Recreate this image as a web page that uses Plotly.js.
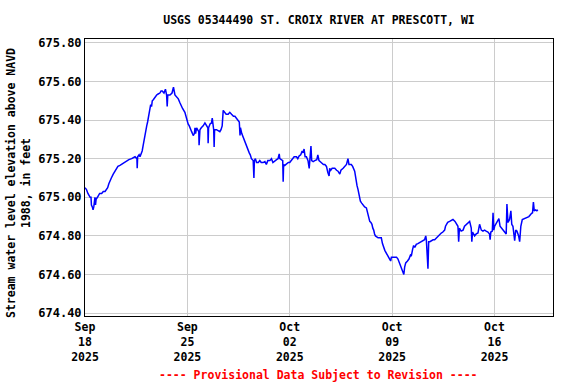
<!DOCTYPE html>
<html>
<head>
<meta charset="utf-8">
<script src="https://cdn.plot.ly/plotly-3.0.1.min.js"></script>
<style>
html,body{margin:0;padding:0;background:#fff;}
#chart{width:576px;height:384px;}
</style>
</head>
<body>
<div id="chart"></div>
<script>
// Days since 2025-09-18 00:00
var dayOffset = [
0.00,0.10,0.20,0.27,0.35,0.41,0.44,0.50,0.55,0.60,0.64,0.68,0.72,0.76,0.85,0.91,1.00,1.14,1.25,1.37,
1.45,1.55,1.63,1.71,1.80,1.93,2.05,2.16,2.25,2.39,2.50,2.62,2.75,2.85,3.00,3.19,3.30,3.42,3.55,3.57,
3.60,3.70,3.76,3.85,3.91,3.98,4.05,4.15,4.22,4.28,4.35,4.39,4.45,4.49,4.55,4.60,4.67,4.78,4.90,5.00,
5.12,5.20,5.28,5.40,5.50,5.58,5.62,5.66,5.81,5.95,6.05,6.15,6.28,6.38,6.49,6.58,6.67,6.83,6.94,7.05,
7.13,7.21,7.29,7.35,7.40,7.48,7.52,7.56,7.63,7.70,7.78,7.80,7.83,7.86,7.95,8.08,8.20,8.30,8.40,8.42,
8.45,8.55,8.65,8.70,8.75,8.80,8.83,8.86,8.99,9.10,9.22,9.30,9.38,9.45,9.55,9.65,9.79,9.90,10.02,10.15,
10.25,10.36,10.47,10.55,10.60,10.63,10.72,10.82,10.93,11.04,11.15,11.23,11.30,11.38,11.50,11.55,11.58,11.65,11.73,11.85,
11.95,12.05,12.18,12.30,12.40,12.50,12.64,12.75,12.85,12.98,13.10,13.20,13.28,13.32,13.45,13.52,13.55,13.58,13.66,13.77,
13.90,14.00,14.10,14.20,14.30,14.46,14.55,14.65,14.75,14.85,14.91,14.98,15.05,15.14,15.25,15.33,15.38,15.45,15.50,15.60,
15.71,15.85,15.92,16.00,16.15,16.30,16.40,16.51,16.60,16.69,16.73,16.80,16.90,17.08,17.20,17.30,17.42,17.50,17.65,17.75,
17.88,17.98,18.05,18.21,18.30,18.44,18.52,18.60,18.67,18.74,18.83,18.92,19.01,19.12,19.24,19.32,19.40,19.47,19.55,19.62,
19.68,19.74,19.80,19.86,19.95,20.04,20.15,20.26,20.34,20.42,20.50,20.61,20.70,20.83,20.90,20.95,21.06,21.17,21.30,21.40,
21.50,21.56,21.65,21.74,21.80,21.86,21.93,22.05,22.15,22.25,22.31,22.40,22.47,22.55,22.65,22.76,22.88,23.00,23.11,23.22,
23.30,23.34,23.45,23.50,23.58,23.68,23.80,23.91,24.02,24.13,24.25,24.36,24.47,24.59,24.65,24.70,24.80,24.93,25.05,25.16,
25.30,25.40,25.50,25.55,25.60,25.72,25.85,25.95,26.08,26.18,26.30,26.41,26.45,26.50,26.64,26.75,26.87,26.98,27.10,27.21,
27.32,27.43,27.55,27.66,27.70,27.75,27.85,27.90,27.95,28.01,28.16,28.30,28.38,28.53,28.65,28.80,28.85,28.92,29.03,29.12,
29.18,29.26,29.38,29.45,29.53,29.65,29.72,29.80,29.90,30.05,30.20,30.35,30.51,30.60,30.66,30.72,30.81,30.90,30.96
];
// Stream water level elevation, feet above NAVD 1988
var elevation = [
675.05,675.04,675.02,675.01,675.00,675.00,674.96,674.95,674.935,674.95,674.99,675.00,674.96,674.99,675.00,675.01,675.02,675.02,675.03,675.03,
675.04,675.05,675.07,675.09,675.10,675.12,675.135,675.15,675.16,675.165,675.17,675.18,675.185,675.19,675.195,675.20,675.205,675.21,675.20,675.15,
675.21,675.22,675.21,675.23,675.24,675.27,675.30,675.36,675.37,675.39,675.42,675.44,675.46,675.48,675.47,675.50,675.505,675.52,675.53,675.535,
675.54,675.55,675.55,675.54,675.56,675.53,675.47,675.53,675.53,675.54,675.57,675.53,675.52,675.51,675.49,675.47,675.46,675.44,675.405,675.38,
675.37,675.35,675.34,675.33,675.32,675.33,675.36,675.33,675.36,675.35,675.34,675.27,675.35,675.35,675.36,675.37,675.385,675.37,675.36,675.28,
675.36,675.38,675.385,675.41,675.37,675.35,675.26,675.35,675.35,675.345,675.34,675.35,675.37,675.45,675.44,675.43,675.43,675.44,675.43,675.42,
675.42,675.41,675.40,675.39,675.32,675.36,675.33,675.31,675.28,675.26,675.24,675.23,675.22,675.20,675.19,675.10,675.19,675.20,675.18,675.18,
675.19,675.18,675.18,675.185,675.17,675.19,675.19,675.20,675.18,675.19,675.195,675.20,675.225,675.20,675.19,675.19,675.08,675.17,675.165,675.17,
675.18,675.18,675.19,675.20,675.21,675.21,675.20,675.215,675.22,675.24,675.23,675.25,675.21,675.21,675.19,675.15,675.19,675.265,675.19,675.185,
675.19,675.195,675.22,675.19,675.18,675.17,675.17,675.16,675.13,675.11,675.15,675.14,675.15,675.15,675.14,675.135,675.12,675.14,675.15,675.16,
675.17,675.20,675.17,675.17,675.16,675.135,675.09,675.06,675.04,675.015,674.98,674.97,674.96,674.95,674.945,674.92,674.90,674.875,674.87,674.86,
674.84,674.83,674.81,674.80,674.795,674.79,674.79,674.79,674.76,674.74,674.725,674.71,674.70,674.68,674.67,674.69,674.69,674.69,674.69,674.68,
674.66,674.645,674.63,674.62,674.60,674.64,674.66,674.67,674.68,674.70,674.695,674.73,674.75,674.74,674.756,674.76,674.765,674.77,674.775,674.78,
674.80,674.78,674.63,674.77,674.77,674.775,674.78,674.78,674.79,674.80,674.81,674.815,674.82,674.83,674.85,674.86,674.87,674.875,674.88,674.885,
674.875,674.86,674.85,674.77,674.84,674.825,674.83,674.85,674.86,674.87,674.875,674.84,674.77,674.82,674.80,674.81,674.815,674.86,674.83,674.825,
674.83,674.825,674.82,674.81,674.78,674.82,674.825,674.92,674.83,674.85,674.875,674.89,674.85,674.835,674.825,674.81,674.965,674.87,674.885,674.93,
674.86,674.85,674.775,674.83,674.825,674.80,674.77,674.85,674.885,674.89,674.895,674.90,674.915,674.92,674.975,674.93,674.935,674.93,674.935
];
var tickDates = ['2025-09-18','2025-09-25','2025-10-02','2025-10-09','2025-10-16'];
var tickLabels = ['Sep<br>18<br>2025','Sep<br>25<br>2025','Oct<br>02<br>2025','Oct<br>09<br>2025','Oct<br>16<br>2025'];
var yTicks = [674.40,674.60,674.80,675.00,675.20,675.40,675.60,675.80];

var base = Date.UTC(2025, 8, 18);
var xs = dayOffset.map(function(d){ return base + d * 86400000; });

var FONT = '"DejaVu Sans Mono", "Liberation Mono", monospace';

var trace = {
  x: xs, y: elevation, type: 'scatter', mode: 'lines',
  line: {color: '#0000FF', width: 1.5, shape: 'linear'},
  hoverinfo: 'skip'
};

var layout = {
  width: 576, height: 384,
  margin: {l: 85, r: 23, t: 39, b: 68},
  paper_bgcolor: '#fff', plot_bgcolor: '#fff',
  showlegend: false,
  font: {family: FONT, size: 12, color: '#000', weight: 'bold'},
  title: {
    text: 'USGS 05344490 ST. CROIX RIVER AT PRESCOTT, WI',
    font: {family: FONT, size: 11.5, color: '#000', weight: 'bold'},
    x: 0.5, xref: 'paper', xanchor: 'center',
    y: 1 - 20/384, yref: 'container', yanchor: 'middle'
  },
  xaxis: {
    type: 'date',
    range: ['2025-09-18 00:00', '2025-10-20 00:00'],
    tickvals: tickDates, ticktext: tickLabels,
    ticks: '', showgrid: true, gridcolor: '#cccccc', gridwidth: 1,
    showline: true, linecolor: '#000', linewidth: 1, mirror: true,
    zeroline: false,
    tickfont: {family: FONT, size: 11.5, color: '#000', weight: 'bold'}
  },
  yaxis: {
    range: [674.385, 675.82],
    tickvals: yTicks, tickformat: '.2f',
    ticks: '', showgrid: true, gridcolor: '#cccccc', gridwidth: 1,
    showline: true, linecolor: '#000', linewidth: 1, mirror: true,
    zeroline: false,
    tickfont: {family: FONT, size: 12, color: '#000', weight: 'bold'}
  },
  annotations: [
    {
      text: 'Stream water level elevation above NAVD<br>1988, in feet',
      xref: 'paper', yref: 'paper',
      x: (18 - 85) / 468, y: (316 - 183) / 277,
      xanchor: 'center', yanchor: 'middle',
      textangle: -90, showarrow: false,
      font: {family: FONT, size: 11.5, color: '#000', weight: 'bold'}
    },
    {
      text: '---- Provisional Data Subject to Revision ----',
      xref: 'paper', yref: 'paper',
      x: (318 - 85) / 468, y: (316 - 375) / 277,
      xanchor: 'center', yanchor: 'middle',
      showarrow: false,
      font: {family: FONT, size: 11.5, color: '#FF0000', weight: 'bold'}
    }
  ]
};

Plotly.newPlot('chart', [trace], layout, {displayModeBar: false, staticPlot: true});
</script>
</body>
</html>
